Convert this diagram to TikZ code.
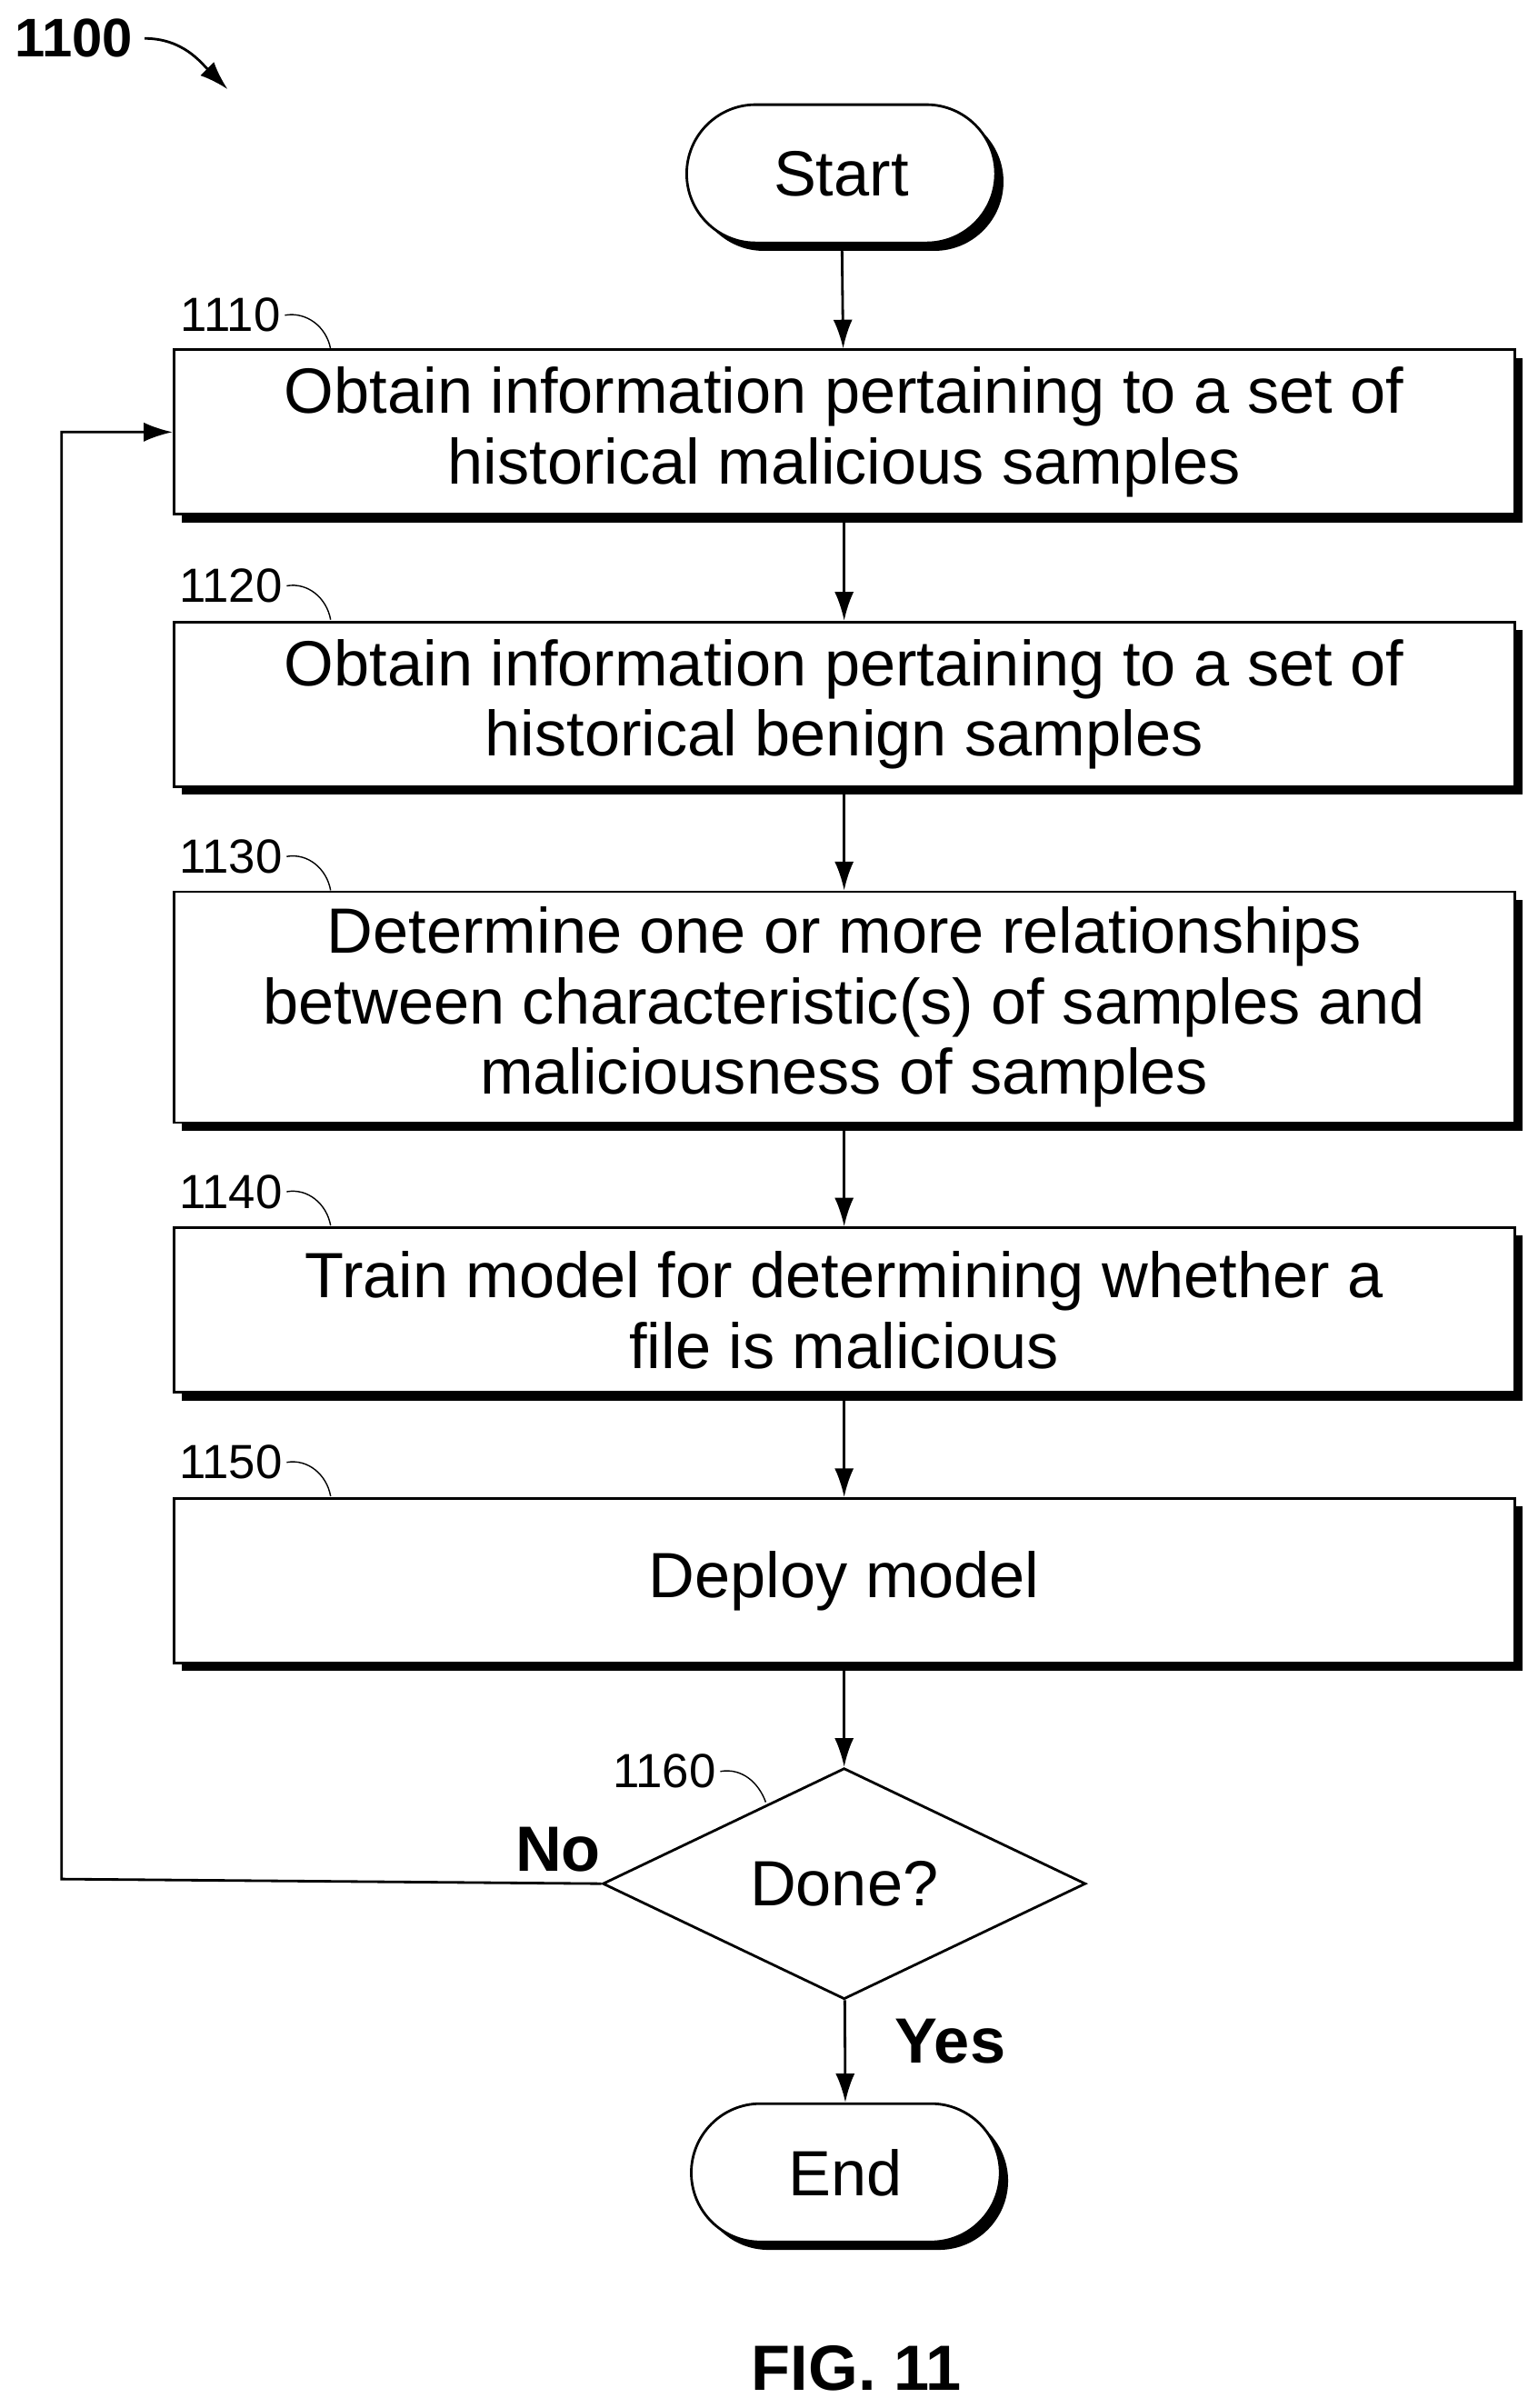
\documentclass[tikz,border=0pt]{standalone}
\usepackage{fontspec}
\setmainfont{Liberation Sans}
\usetikzlibrary{positioning,shapes.geometric,shapes.misc,shadows,arrows.meta}
\begin{document}
\begin{tikzpicture}[x=0.0169cm,y=-0.0169cm,thick,
		box/.style={draw,thick,fill=white,minimum width=14.74cm,minimum height=1.81cm,align=center,font=\fontsize{20}{22}\selectfont,
			drop shadow={shadow xshift=2.5pt,shadow yshift=-2.5pt,fill=black,opacity=1}},
		term/.style={draw,thick,fill=white,rounded rectangle,minimum width=3.63cm,minimum height=1.52cm,font=\fontsize{20}{22}\selectfont,
			drop shadow={shadow xshift=2.5pt,shadow yshift=-2.5pt,fill=black,opacity=1}},
		tag/.style={font=\fontsize{15}{16}\selectfont,inner sep=1pt},
		flow/.style={-{Latex[length=9pt,width=6pt]}},
		]
		\useasboundingbox (0,0) rectangle (1000,1566);
		% fig number and arrow
		\node[font=\bfseries\fontsize{17}{18}\selectfont] (fig) at (48,25) {1100};
		\draw[flow] (fig.east) to[out=0,in=135] (148,58);
		% start and boxes
		\node[term] (start) at (547,113) {Start};
		\node[box] (s1) at (549,281) {Obtain information pertaining to a set of\\historical malicious samples};
		\node[box] (s2) at (549,458) {Obtain information pertaining to a set of\\historical benign samples};
		\node[box,minimum height=2.54cm] (s3) at (549,655) {Determine one or more relationships\\between characteristic(s) of samples and\\maliciousness of samples};
		\node[box] (s4) at (549,852) {Train model for determining whether a\\file is malicious};
		\node[box] (s5) at (549,1028) {Deploy model};
		\node[diamond,draw,thick,fill=white,aspect=2.1,minimum width=5.31cm,minimum height=2.54cm,inner sep=0pt,font=\fontsize{20}{22}\selectfont] (done) at (549,1225) {Done?};
		\node[term] (end) at (550,1413) {End};
		% reference tags
		\foreach \n/\t/\y in {s1/1110/205,s2/1120/381,s3/1130/557,s4/1140/775,s5/1150/951}{
			\node[tag] (t\n) at (150,\y) {\t};
			\draw[thin] (t\n.east) to[out=10,in=100] (215,\y+22);
		}
		\node[tag] (tdone) at (432,1152) {1160};
		\draw[thin] (tdone.east) to[out=10,in=110] (498,1172);
		% connectors
		\draw[flow] (start) -- (s1);
		\draw[flow] (s1) -- (s2);
		\draw[flow] (s2) -- (s3);
		\draw[flow] (s3) -- (s4);
		\draw[flow] (s4) -- (s5);
		\draw[flow] (s5) -- (done);
		\draw[flow] (done) -- (end) node[pos=0.4,right=12pt,font=\bfseries\fontsize{20}{22}\selectfont] {Yes};
		\draw[flow] (done.west) -- (40,1222) |- (s1.west);
		\node[font=\bfseries\fontsize{20}{22}\selectfont] (no) at (363,1203) {No};
		\node[font=\bfseries\fontsize{20}{22}\selectfont] (cap) at (557,1540) {FIG. 11};
\end{tikzpicture}
\end{document}
